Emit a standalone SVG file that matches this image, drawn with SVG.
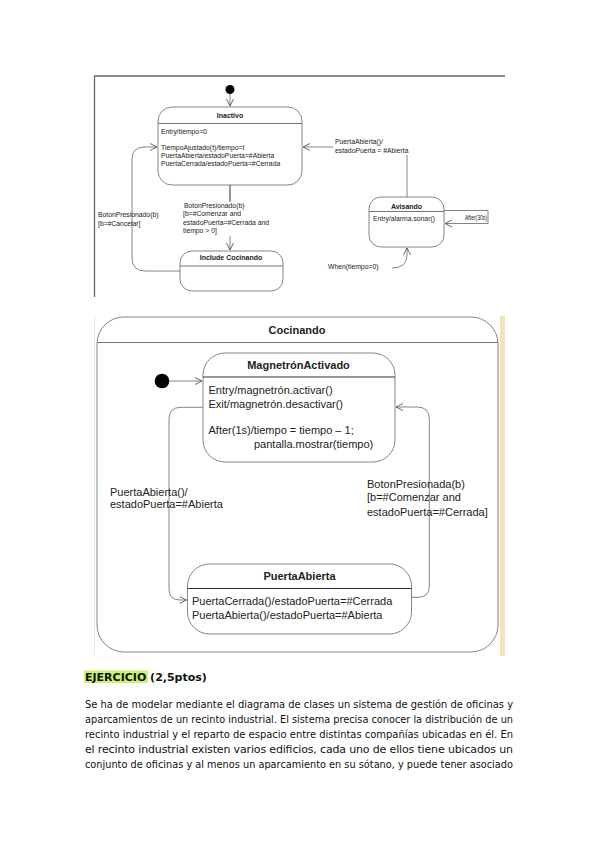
<svg xmlns="http://www.w3.org/2000/svg" width="599" height="848" viewBox="0 0 599 848">
<defs>
<marker id="open" markerWidth="8" markerHeight="8" refX="7" refY="4" orient="auto" markerUnits="userSpaceOnUse">
<path d="M0,0.5 L7,4 L0,7.5" fill="none" stroke="#555" stroke-width="0.9"/>
</marker>
<style>
.st{fill:#fff;stroke:#777;stroke-width:0.9}
.dv{stroke:#666;stroke-width:0.9}
.cn{fill:none;stroke:#777;stroke-width:0.9}
.s{font-family:"Liberation Sans",Arial,sans-serif;font-size:6.8px;fill:#222}
.sb{font-family:"Liberation Sans",Arial,sans-serif;font-size:7px;font-weight:bold;fill:#222;text-anchor:middle}
.m{font-family:"Liberation Sans",Arial,sans-serif;font-size:11px;fill:#222}
.mb{font-family:"Liberation Sans",Arial,sans-serif;font-size:11px;font-weight:bold;fill:#222;text-anchor:middle}
.body{font-family:"DejaVu Sans",Verdana,sans-serif;font-size:11px;fill:#111}
</style>
</defs>
<rect width="599" height="848" fill="#fff"/>

<!-- upper diagram frame -->
<g id="frame1">
<line x1="94" y1="76" x2="505" y2="76" stroke="#666" stroke-width="1.5"/>
<line x1="94.5" y1="76" x2="94.5" y2="297" stroke="#666" stroke-width="1.3"/>
</g>

<g id="init1"><circle cx="230" cy="89.5" r="4.5" fill="#000"/></g>

<g id="Inactivo">
<rect class="st" x="158" y="107" width="144" height="78" rx="14"/>
<line class="dv" x1="158" y1="123.5" x2="302" y2="123.5"/>
<text class="sb" x="230" y="118">Inactivo</text>
<text class="s" x="161" y="133.5">Entry/tiempo=0</text>
<text class="s" x="161" y="150">TiempoAjustado(t)/tiempo=t</text>
<text class="s" x="161" y="158">PuertaAbierta/estadoPuerta=#Abierta</text>
<text class="s" x="161" y="166">PuertaCerrada/estadoPuerta=#Cerrada</text>
</g>

<g id="IncludeCocinando">
<rect class="st" x="180" y="251" width="103" height="40" rx="12"/>
<line class="dv" x1="180" y1="266" x2="283" y2="266"/>
<text class="sb" x="231" y="259.5">Include Cocinando</text>
</g>

<g id="Avisando">
<rect class="st" x="369" y="197" width="75" height="50" rx="12"/>
<line class="dv" x1="369" y1="211.5" x2="444" y2="211.5"/>
<text class="sb" x="406.5" y="208.5">Avisando</text>
<text class="s" x="373" y="220.5">Entry/alarma.sonar()</text>
</g>

<g id="connectors1">
<line class="cn" x1="230" y1="94" x2="230" y2="106" marker-end="url(#open)"/>
<line x1="230" y1="185" x2="230" y2="202" stroke="#444" stroke-width="1.1"/>
<line class="cn" x1="230" y1="236" x2="230" y2="250" marker-end="url(#open)"/>
<path class="cn" d="M180,271 L145,271 Q132,271 132,258 L132,159 Q132,147 145,147 L157,147" marker-end="url(#open)"/>
<path class="cn" d="M407,197 L407,155"/>
<line class="cn" x1="333" y1="147" x2="303" y2="147" marker-end="url(#open)"/>
<path class="cn" d="M444,210.5 L488,210.5 L488,223.5 L445,223.5" marker-end="url(#open)"/>
<path class="cn" d="M392,268 Q407,268 407,255 L407,248" marker-end="url(#open)"/>
<text class="s" x="98" y="217">BotonPresionado(b)</text>
<text class="s" x="98" y="225.5">[b=#Cancelar]</text>
<text class="s" x="184" y="207.5">BotonPresionado(b)</text>
<text class="s" x="183" y="216">[b=#Comenzar and</text>
<text class="s" x="183" y="224.5">estadoPuerta=#Cerrada and</text>
<text class="s" x="183" y="233">tiempo &gt; 0]</text>
<text class="s" x="335" y="144">PuertaAbierta()/</text>
<text class="s" x="335" y="152.5">estadoPuerta = #Abierta</text>
<text class="s" x="465" y="220" textLength="22" lengthAdjust="spacingAndGlyphs">After(30s)</text>
<text class="s" x="328" y="269">When(tiempo=0)</text>
</g>

<!-- lower diagram -->
<g id="frame2">
<line x1="94.5" y1="316" x2="94.5" y2="655" stroke="#efe9d2" stroke-width="1"/>
<rect x="500" y="316" width="5" height="340" fill="#f4e3b6"/>
</g>

<g id="Cocinando">
<rect class="st" x="97" y="317" width="401" height="335" rx="27"/>
<line class="dv" x1="97" y1="342.5" x2="498" y2="342.5"/>
<text class="mb" x="297" y="333.5">Cocinando</text>
</g>

<g id="init2"><circle cx="162" cy="381" r="7.3" fill="#000"/></g>

<g id="MagnetronActivado">
<rect class="st" x="203" y="353" width="192" height="109" rx="22"/>
<line x1="203" y1="377" x2="395" y2="377" stroke="#333" stroke-width="1"/>
<text class="mb" x="298.5" y="368.5">MagnetrónActivado</text>
<text class="m" x="208.5" y="394">Entry/magnetrón.activar()</text>
<text class="m" x="208.5" y="407.5">Exit/magnetrón.desactivar()</text>
<text class="m" x="208.5" y="433.5">After(1s)/tiempo = tiempo – 1;</text>
<text class="m" x="254" y="447.5">pantalla.mostrar(tiempo)</text>
</g>

<g id="PuertaAbierta">
<rect class="st" x="187.5" y="564" width="224" height="70" rx="22"/>
<line x1="187.5" y1="588.5" x2="411.5" y2="588.5" stroke="#333" stroke-width="1"/>
<text class="mb" x="299.5" y="580">PuertaAbierta</text>
<text class="m" x="192" y="605">PuertaCerrada()/estadoPuerta=#Cerrada</text>
<text class="m" x="192" y="618.5">PuertaAbierta()/estadoPuerta=#Abierta</text>
</g>

<g id="connectors2">
<line class="cn" x1="169" y1="381" x2="202" y2="381" marker-end="url(#open)"/>
<path class="cn" d="M203,407.3 L181,407.3 Q169,407.3 169,419 L169,589 Q169,600 180,600 L186.5,600" marker-end="url(#open)"/>
<path class="cn" d="M411.5,597.3 L418,597.3 Q429.3,597.3 429.3,586 L429.3,419 Q429.3,407 417,407 L396,407" marker-end="url(#open)"/>
<text class="m" x="110" y="495.5">PuertaAbierta()/</text>
<text class="m" x="110" y="508">estadoPuerta=#Abierta</text>
<text class="m" x="367" y="487.5">BotonPresionada(b)</text>
<text class="m" x="367" y="501">[b=#Comenzar and</text>
<text class="m" x="367" y="515.5">estadoPuerta=#Cerrada]</text>
</g>

<!-- text below -->
<g id="exercise">
<rect x="84" y="670.5" width="64" height="12.5" fill="#c8f46e"/>
<text class="body" x="85" y="680.5" style="font-weight:bold">EJERCICIO <tspan>(2,5ptos)</tspan></text>
<text class="body" x="85" y="707.5" textLength="428" lengthAdjust="spacingAndGlyphs">Se ha de modelar  mediante el diagrama de clases un sistema de gestión de oficinas y</text>
<text class="body" x="85" y="722.6" textLength="428" lengthAdjust="spacingAndGlyphs">aparcamientos de un recinto industrial. El sistema precisa conocer la distribución de un</text>
<text class="body" x="85" y="737.8" textLength="428" lengthAdjust="spacingAndGlyphs">recinto industrial y el reparto de espacio entre distintas compañías ubicadas en él. En</text>
<text class="body" x="85" y="752.9" textLength="428" lengthAdjust="spacing">el recinto industrial existen varios edificios, cada uno de ellos tiene ubicados un</text>
<text class="body" x="85" y="768" textLength="428" lengthAdjust="spacingAndGlyphs">conjunto de oficinas y al menos un aparcamiento en su sótano, y puede tener asociado</text>
</g>
</svg>
